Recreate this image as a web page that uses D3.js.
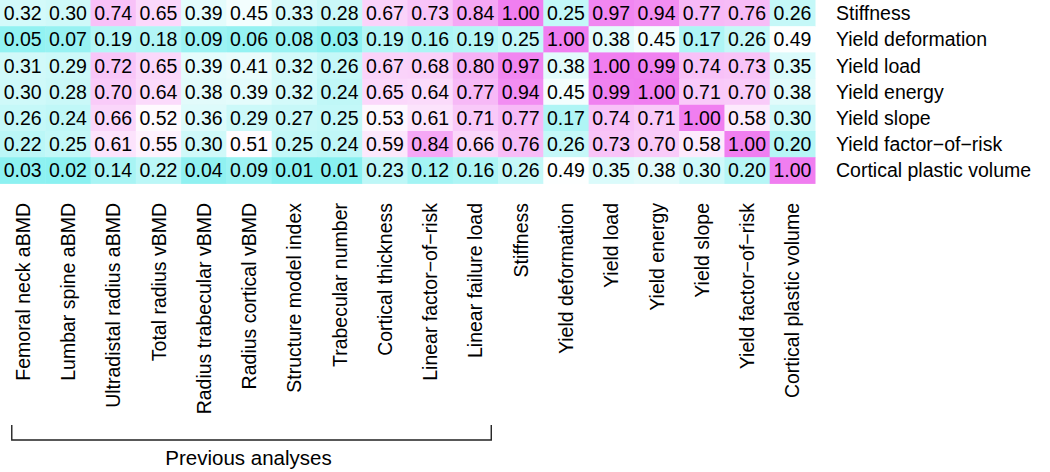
<!DOCTYPE html>
<html>
<head>
<meta charset="utf-8">
<script src="https://cdn.jsdelivr.net/npm/d3@7"></script>
<style>
  html, body { margin: 0; padding: 0; background: #fff; }
  svg text { font-family: "Liberation Sans", Arial, Helvetica, sans-serif; fill: #000; }
</style>
</head>
<body>
<svg id="chart" width="1050" height="472"></svg>
<script>
const columns = ["Femoral neck aBMD", "Lumbar spine aBMD", "Ultradistal radius aBMD", "Total radius vBMD",
  "Radius trabecular vBMD", "Radius cortical vBMD", "Structure model index", "Trabecular number",
  "Cortical thickness", "Linear factor\u2212of\u2212risk", "Linear failure load", "Stiffness",
  "Yield deformation", "Yield load", "Yield energy", "Yield slope", "Yield factor\u2212of\u2212risk",
  "Cortical plastic volume"];
const rows = ["Stiffness", "Yield deformation", "Yield load", "Yield energy", "Yield slope",
  "Yield factor\u2212of\u2212risk", "Cortical plastic volume"];
const stiffness = [0.32, 0.30, 0.74, 0.65, 0.39, 0.45, 0.33, 0.28, 0.67, 0.73, 0.84, 1.00, 0.25, 0.97, 0.94, 0.77, 0.76, 0.26];
const yieldDeformation = [0.05, 0.07, 0.19, 0.18, 0.09, 0.06, 0.08, 0.03, 0.19, 0.16, 0.19, 0.25, 1.00, 0.38, 0.45, 0.17, 0.26, 0.49];
const yieldLoad = [0.31, 0.29, 0.72, 0.65, 0.39, 0.41, 0.32, 0.26, 0.67, 0.68, 0.80, 0.97, 0.38, 1.00, 0.99, 0.74, 0.73, 0.35];
const yieldEnergy = [0.30, 0.28, 0.70, 0.64, 0.38, 0.39, 0.32, 0.24, 0.65, 0.64, 0.77, 0.94, 0.45, 0.99, 1.00, 0.71, 0.70, 0.38];
const yieldSlope = [0.26, 0.24, 0.66, 0.52, 0.36, 0.29, 0.27, 0.25, 0.53, 0.61, 0.71, 0.77, 0.17, 0.74, 0.71, 1.00, 0.58, 0.30];
const yieldFactorOfRisk = [0.22, 0.25, 0.61, 0.55, 0.30, 0.51, 0.25, 0.24, 0.59, 0.84, 0.66, 0.76, 0.26, 0.73, 0.70, 0.58, 1.00, 0.20];
const corticalPlasticVolume = [0.03, 0.02, 0.14, 0.22, 0.04, 0.09, 0.01, 0.01, 0.23, 0.12, 0.16, 0.26, 0.49, 0.35, 0.38, 0.30, 0.20, 1.00];
const groupLabel = "Previous analyses";
const groupFirst = 0, groupLast = 10;

const matrix = [stiffness, yieldDeformation, yieldLoad, yieldEnergy, yieldSlope, yieldFactorOfRisk, corticalPlasticVolume];
const cells = [];
matrix.forEach((vals, r) => vals.forEach((v, c) => cells.push({row: rows[r], col: columns[c], value: v})));

const svg = d3.select("#chart");
const fs = 19.5;
const x = d3.scaleBand().domain(columns).range([0, 815]).padding(0);
const y = d3.scaleBand().domain(rows).range([0, 183.4]).padding(0);
const color = d3.scaleLinear().domain([0, 0.5, 1]).range(["#86f0f0", "#ffffff", "#f07ef0"]).interpolate(d3.interpolateRgb);

const g = svg.append("g");
g.selectAll("rect.cell").data(cells).join("rect")
  .attr("class", "cell")
  .attr("x", d => x(d.col)).attr("y", d => y(d.row))
  .attr("width", x.bandwidth() + 0.5).attr("height", y.bandwidth() + 0.5)
  .attr("fill", d => color(d.value));

g.selectAll("text.val").data(cells).join("text")
  .attr("class", "val")
  .attr("x", d => x(d.col) + x.bandwidth() / 2)
  .attr("y", d => y(d.row) + y.bandwidth() / 2)
  .attr("dy", "0.36em")
  .attr("text-anchor", "middle")
  .style("font-size", fs + "px")
  .text(d => d.value.toFixed(2));

// row labels (right axis)
const yAxis = d3.axisRight(y).tickSize(0).tickPadding(0);
const ya = svg.append("g").attr("transform", `translate(836,0)`).call(yAxis);
ya.select(".domain").remove();
ya.selectAll("text").style("font-size", fs + "px").attr("dy", "0.36em")
  .style("font-family", '"Liberation Sans", Arial, Helvetica, sans-serif').attr("fill", "#000");

// column labels (bottom axis, rotated)
const xAxis = d3.axisBottom(x).tickSize(0).tickPadding(0);
const xa = svg.append("g").attr("transform", `translate(0,203)`).call(xAxis);
xa.select(".domain").remove();
xa.selectAll("text")
  .style("font-size", fs + "px")
  .style("font-family", '"Liberation Sans", Arial, Helvetica, sans-serif')
  .attr("fill", "#000")
  .attr("transform", "rotate(-90)")
  .attr("text-anchor", "end")
  .attr("x", 0).attr("y", 0).attr("dy", "0.36em");

// bracket
const bw = x.bandwidth();
const bx0 = x(columns[groupFirst]) + bw * 0.26;
const bx1 = x(columns[groupLast]) + bw * 0.85;
svg.append("path")
  .attr("d", `M${bx0},425V440H${bx1}V425`)
  .attr("fill", "none").attr("stroke", "#222").attr("stroke-width", 1.4);
svg.append("text")
  .attr("x", (bx0 + bx1) / 2 - 3).attr("y", 465)
  .attr("text-anchor", "middle")
  .style("font-size", "20.5px")
  .text(groupLabel);
</script>
</body>
</html>
